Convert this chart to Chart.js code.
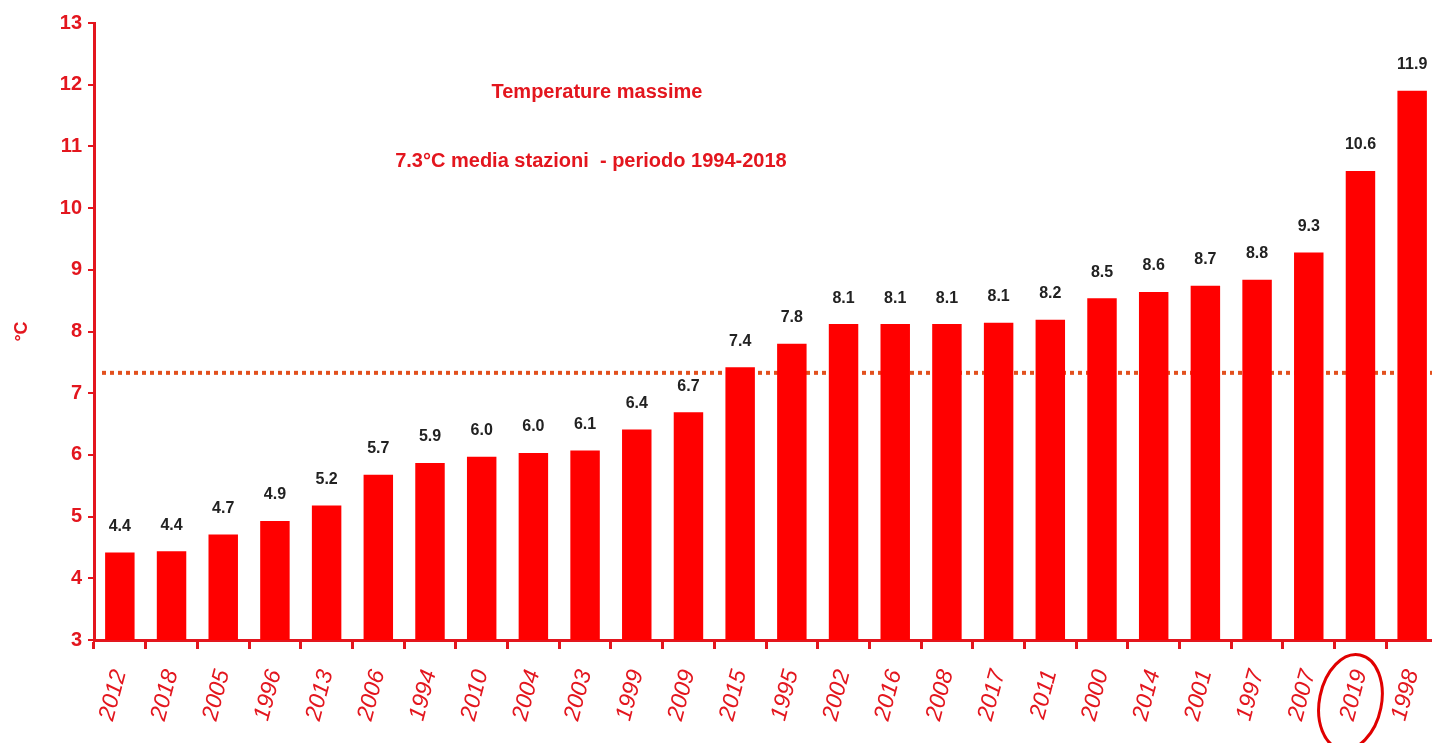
<!DOCTYPE html>
<html>
<head>
<meta charset="utf-8">
<script src="https://cdn.jsdelivr.net/npm/chart.js@4"></script>
<style>
  body { margin: 0; overflow: hidden; background: #fff; }
  #box { width: 1438px; height: 743px; }
</style>
</head>
<body>
<div id="box"><canvas id="graf"></canvas></div>
<script>
// Anni ordinati per temperatura massima
const anni = ['2012','2018','2005','1996','2013','2006','1994','2010','2004','2003','1999','2009','2015',
              '1995','2002','2016','2008','2017','2011','2000','2014','2001','1997','2007','2019','1998']
const tmax = [4.42, 4.44, 4.71, 4.93, 5.18, 5.68, 5.87, 5.97, 6.03, 6.07, 6.41, 6.69, 7.42,
              7.80, 8.12, 8.12, 8.12, 8.14, 8.19, 8.54, 8.64, 8.74, 8.84, 9.28, 10.6, 11.9]
const yTicks = [3, 4, 5, 6, 7, 8, 9, 10, 11, 12, 13]
const media = 7.33
const annoEvidenziato = '2019'
const titolo1 = 'Temperature massime'
const titolo2 = '7.3°C media stazioni  - periodo 1994-2018'

const rosso = '#e3161e'
const font = 'Liberation Sans, Arial, sans-serif'

// Etichette valori, linea media, titoli e cerchio
const extra = {
    id: 'extra',
    beforeDatasetsDraw(chart) {
        const { ctx, chartArea, scales: { y } } = chart
        ctx.save()
        // linea media tratteggiata
        const yp = y.getPixelForValue(media)
        ctx.strokeStyle = '#e2501e'
        ctx.lineWidth = 4
        ctx.setLineDash([4, 4])
        ctx.beginPath()
        ctx.moveTo(chartArea.left + 8, yp)
        ctx.lineTo(chartArea.right, yp)
        ctx.stroke()
        ctx.restore()
    },
    afterDatasetsDraw(chart) {
        const { ctx, scales: { x, y } } = chart
        ctx.save()
        // valori sopra le barre
        ctx.fillStyle = '#222'
        ctx.font = `bold 16px ${font}`
        ctx.textAlign = 'center'
        ctx.textBaseline = 'bottom'
        chart.getDatasetMeta(0).data.forEach((bar, i) => {
            ctx.fillText(tmax[i].toFixed(1), bar.x, bar.y - 18)
        })
        // titoli
        ctx.fillStyle = rosso
        ctx.font = `bold 20px ${font}`
        ctx.textBaseline = 'middle'
        const xc = (x.getPixelForValue(9) + x.getPixelForValue(10)) / 2 - 14
        ctx.fillText(titolo1, xc, y.getPixelForValue(11.88))
        ctx.fillText(titolo2, xc - 6, y.getPixelForValue(10.76))
        // cerchio anno
        const idx = anni.indexOf(annoEvidenziato)
        const cx = x.getPixelForValue(idx) - 10
        const cy = y.bottom + 62
        ctx.strokeStyle = '#e00000'
        ctx.lineWidth = 3
        ctx.beginPath()
        ctx.ellipse(cx, cy, 31, 48, 0.2, 0, Math.PI * 2)
        ctx.stroke()
        ctx.restore()
    }
}

new Chart(document.getElementById('graf'), {
    type: 'bar',
    data: {
        labels: anni,
        datasets: [{
            data: tmax,
            backgroundColor: '#ff0000',
            barPercentage: 0.57,
            categoryPercentage: 1
        }]
    },
    options: {
        responsive: true,
        maintainAspectRatio: false,
        animation: false,
        layout: { padding: { top: 23, right: 0, left: 0, bottom: 0 } },
        plugins: { legend: { display: false }, tooltip: { enabled: false } },
        scales: {
            x: {
                border: { display: true, color: rosso, width: 3 },
                grid: { display: true, drawOnChartArea: false, drawTicks: true, tickLength: 9, color: rosso, lineWidth: 3, offset: true },
                ticks: {
                    color: rosso,
                    font: { family: font, size: 23, style: 'italic' },
                    minRotation: 75, maxRotation: 75,
                    padding: 18
                },
                afterFit: s => { s.height = 103; s.paddingLeft = 0; s.paddingRight = 0 }
            },
            y: {
                min: 3, max: 13,
                afterBuildTicks: s => { s.ticks = yTicks.map(v => ({ value: v })) },
                border: { display: true, color: rosso, width: 3 },
                grid: { display: true, drawOnChartArea: false, drawTicks: true, tickLength: 6, color: rosso, lineWidth: 2 },
                ticks: {
                    color: rosso,
                    font: { family: font, size: 20, weight: 'bold' },
                    padding: 6
                },
                title: {
                    display: true, text: '°C', color: rosso,
                    font: { family: font, size: 18, weight: 'bold' },
                    padding: { top: 11, bottom: 0 }
                },
                afterFit: s => { s.width = 94 }
            }
        }
    },
    plugins: [extra]
})
</script>
</body>
</html>
